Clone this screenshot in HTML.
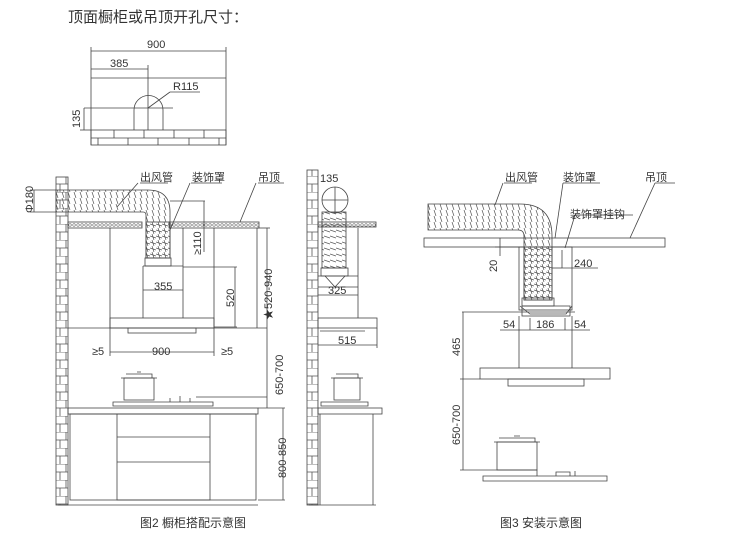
<!DOCTYPE html>
<html><head><meta charset="utf-8"><style>
html,body{margin:0;padding:0;background:#fff;width:730px;height:541px;overflow:hidden}
svg text{font-family:"Liberation Sans","Noto Sans CJK SC",sans-serif;fill:#333}
</style></head><body>
<svg width="730" height="541" viewBox="0 0 730 541" xmlns="http://www.w3.org/2000/svg">
<defs>
<pattern id="brick" width="12" height="16" patternUnits="userSpaceOnUse">
<rect width="12" height="16" fill="#fff"/>
<path d="M0 0H12M0 8H12M6 0V8M0 8V16M12 8V16" stroke="#555" stroke-width="0.8" fill="none"/>
</pattern>
<pattern id="hatch" width="4" height="6" patternUnits="userSpaceOnUse">
<circle cx="2" cy="3" r="1.3" fill="none" stroke="#666" stroke-width="0.6"/>
</pattern>
<pattern id="duct" width="6" height="6" patternUnits="userSpaceOnUse">
<path d="M2 0L4 6" stroke="#555" stroke-width="0.7"/>
</pattern>
<pattern id="ductv" width="6" height="6" patternUnits="userSpaceOnUse">
<path d="M0 2L6 4" stroke="#555" stroke-width="0.7"/>
</pattern>
</defs>
<g fill="none" stroke="#444" stroke-width="0.8">

<!-- top drawing -->
<line x1="91" y1="47" x2="91" y2="145"/><line x1="226" y1="47" x2="226" y2="145"/>
<line x1="91" y1="51" x2="226" y2="51"/>
<line x1="91" y1="69" x2="148" y2="69"/><line x1="148" y1="65" x2="148" y2="130"/>
<line x1="91" y1="78" x2="226" y2="78"/>
<path d="M134 130V110A14.5 14.5 0 0 1 163 110V130"/>
<line x1="84" y1="108" x2="173" y2="108"/>
<line x1="148" y1="108" x2="170" y2="92"/><line x1="170" y1="92" x2="200" y2="92"/>
<line x1="84" y1="108" x2="84" y2="130"/><line x1="80" y1="130" x2="91" y2="130"/>
<rect x="91" y="130" width="135" height="15"/><line x1="91" y1="138" x2="226" y2="138"/>
<path d="M114 130V138M144 130V138M174 130V138M204 130V138M98 138V145M128 138V145M158 138V145M189 138V145M219 138V145"/>

<!-- Fig2 wall -->
<rect x="56" y="177" width="12" height="328" fill="url(#brick)"/>
<rect x="68" y="222" width="74" height="6" fill="url(#hatch)"/>
<rect x="169" y="222" width="90" height="6" fill="url(#hatch)"/>
<path d="M56 190H148Q170 190 170 212V258H146V215Q146 212 143 212H56Z" fill="url(#duct)"/>
<rect x="146" y="222" width="24" height="36" fill="url(#ductv)"/>
<rect x="145" y="258" width="26" height="8"/>
<line x1="30" y1="190" x2="56" y2="190"/><line x1="30" y1="212" x2="56" y2="212"/><line x1="34" y1="190" x2="34" y2="212"/>
<line x1="110" y1="228" x2="110" y2="330"/><line x1="214" y1="228" x2="214" y2="330"/>
<line x1="257" y1="228" x2="257" y2="328"/>
<line x1="143" y1="266" x2="143" y2="318"/><line x1="183" y1="228" x2="183" y2="318"/>
<line x1="143" y1="266" x2="183" y2="266"/>
<line x1="170" y1="201" x2="205" y2="201"/><line x1="204" y1="201" x2="204" y2="252"/>
<line x1="143" y1="290" x2="183" y2="290"/>
<line x1="183" y1="267" x2="237" y2="267"/><line x1="214" y1="327" x2="237" y2="327"/><line x1="235" y1="267" x2="235" y2="327"/>
<line x1="257" y1="228" x2="270" y2="228"/><line x1="267" y1="228" x2="267" y2="408"/>
<line x1="68" y1="328" x2="267" y2="328"/>
<rect x="110" y="318" width="104" height="10"/>
<rect x="128" y="328" width="68" height="5"/>
<line x1="110" y1="352" x2="214" y2="352"/><line x1="110" y1="330" x2="110" y2="356"/><line x1="214" y1="330" x2="214" y2="356"/>
<line x1="196" y1="397" x2="267" y2="397"/>
<rect x="124" y="378" width="30" height="22"/><path d="M121 378H157M126 374H152V378M137 372H141"/>
<path d="M113 402H213V406H113Z"/><path d="M170 402V398M180 402V396M190 402V398"/>
<rect x="68" y="408" width="190" height="6"/>
<rect x="70" y="414" width="186" height="86"/>
<rect x="117" y="414" width="93" height="86"/>
<line x1="117" y1="437" x2="210" y2="437"/><line x1="117" y1="462" x2="210" y2="462"/>
<line x1="258" y1="408" x2="285" y2="408"/><line x1="258" y1="500" x2="285" y2="500"/><line x1="283" y1="408" x2="283" y2="500"/>
<line x1="58" y1="505" x2="258" y2="505"/>
<path d="M138 183L117 207M140 183H168M190 183L170 230M191 183H222M256 183L240 222M258 183H284"/>

<!-- side view -->
<rect x="307" y="170" width="11" height="335" fill="url(#brick)"/>
<circle cx="335" cy="200" r="13"/>
<line x1="322" y1="200" x2="348" y2="200"/><line x1="335" y1="187" x2="335" y2="213"/>
<rect x="318" y="222" width="58" height="5" fill="url(#hatch)"/>
<rect x="322" y="212" width="24" height="56" fill="url(#ductv)"/>
<rect x="321" y="268" width="27" height="8"/>
<path d="M318 276H358M325 276L335 287L345 276M318 287H358"/>
<line x1="358" y1="228" x2="358" y2="318"/>
<line x1="318" y1="295" x2="358" y2="295"/>
<rect x="318" y="318" width="59" height="10"/>
<path d="M320 331H365"/>
<line x1="318" y1="345" x2="377" y2="345"/><line x1="377" y1="328" x2="377" y2="348"/>
<rect x="334" y="378" width="26" height="22"/><path d="M331 378H363M336 374H358V378"/>
<path d="M321 402H368V406H321Z"/>
<rect x="318" y="408" width="64" height="6"/>
<path d="M320 414V505M373 414V505"/>
<line x1="309" y1="505" x2="376" y2="505"/>

<!-- Fig3 -->
<rect x="424" y="238" width="241" height="9"/>
<path d="M428 204H520Q552 204 552 236V300H524V236Q524 230 518 230H428Z" fill="url(#duct)"/>
<rect x="524" y="247" width="28" height="53" fill="url(#ductv)"/>
<rect x="522" y="298" width="32" height="8"/>
<rect x="519" y="247" width="53" height="63"/>
<rect x="522" y="306" width="48" height="10"/>
<path d="M520 306L530 314H566L572 306"/>
<line x1="519" y1="316" x2="519" y2="368"/><line x1="572" y1="316" x2="572" y2="368"/>
<line x1="462" y1="312" x2="575" y2="312"/>
<line x1="500" y1="330" x2="590" y2="330"/>
<line x1="530" y1="318" x2="530" y2="330"/><line x1="565" y1="318" x2="565" y2="330"/>
<line x1="552" y1="268" x2="562" y2="268"/><line x1="562" y1="250" x2="562" y2="268"/><line x1="562" y1="268" x2="598" y2="268"/>
<line x1="495" y1="247" x2="520" y2="247"/><line x1="500" y1="238" x2="500" y2="256"/>
<line x1="463" y1="312" x2="463" y2="470"/>
<rect x="480" y="368" width="130" height="11"/>
<rect x="508" y="379" width="76" height="7"/>
<line x1="460" y1="379" x2="480" y2="379"/>
<line x1="460" y1="470" x2="500" y2="470"/>
<rect x="497" y="442" width="40" height="28"/><path d="M494 442H540M499 438H535V442M514 436H520"/>
<path d="M483 476H607V481H483Z"/><path d="M500 470H537V476M556 476V472H570V476M575 476V471"/>
<path d="M503 183L495 205M504 183H532M563 183L555 238M563 183H600M575 215L565 248M575 215H633M655 183L630 238M655 183H675"/>
</g>

<g font-size="15"><text x="68" y="22">顶面橱柜或吊顶开孔尺寸：</text></g>
<g font-size="11">
<text x="147" y="48">900</text>
<text x="110" y="67">385</text>
<text x="173" y="90">R115</text>
<text transform="translate(80,128) rotate(-90)">135</text>
<text transform="translate(33,213) rotate(-90)">Φ180</text>
<text x="140" y="181">出风管</text>
<text x="192" y="181">装饰罩</text>
<text x="258" y="181">吊顶</text>
<text transform="translate(201,255) rotate(-90)">≥110</text>
<text x="154" y="290">355</text>
<text transform="translate(234,307) rotate(-90)">520</text>
<text transform="translate(272,320) rotate(-90)">★520-940</text>
<text x="92" y="355">≥5</text>
<text x="152" y="355">900</text>
<text x="221" y="355">≥5</text>
<text transform="translate(283,395) rotate(-90)">650-700</text>
<text transform="translate(286,478) rotate(-90)">800-850</text>
<text x="320" y="182">135</text>
<text x="328" y="294">325</text>
<text x="338" y="344">515</text>
<text x="505" y="181">出风管</text>
<text x="563" y="181">装饰罩</text>
<text x="645" y="181">吊顶</text>
<text x="570" y="218">装饰罩挂钩</text>
<text transform="translate(497,272) rotate(-90)">20</text>
<text x="574" y="267">240</text>
<text x="503" y="328">54</text>
<text x="536" y="328">186</text>
<text x="574" y="328">54</text>
<text transform="translate(460,356) rotate(-90)">465</text>
<text transform="translate(460,445) rotate(-90)">650-700</text>
</g>
<g font-size="12"><text x="140" y="527">图2 橱柜搭配示意图</text><text x="500" y="527">图3 安装示意图</text></g>
</svg>
</body></html>
